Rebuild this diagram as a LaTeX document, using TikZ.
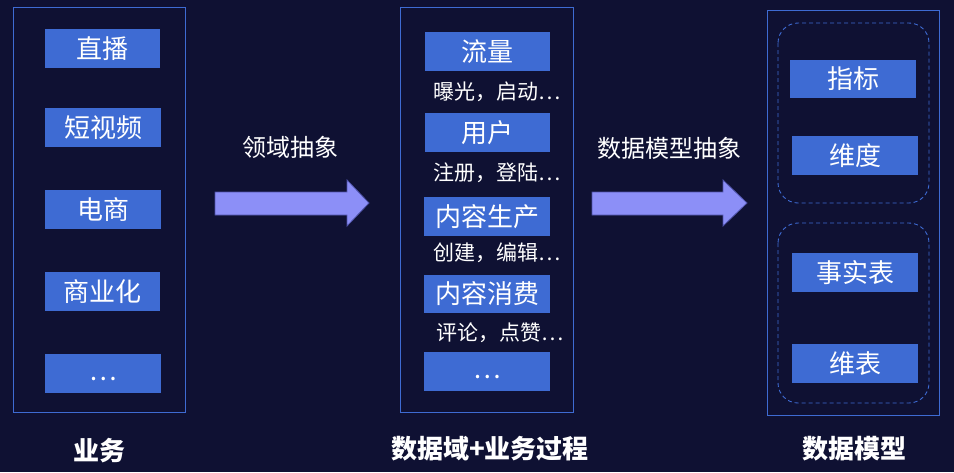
\documentclass[tikz,border=0pt]{standalone}
\usepackage{fontspec}
\setmainfont{Noto Sans CJK SC}
\usetikzlibrary{positioning}
\definecolor{bgc}{HTML}{0F1133}
\definecolor{boxc}{HTML}{3E6BD3}
\definecolor{arrc}{HTML}{8C8FF7}
\definecolor{arrd}{HTML}{4E52A8}
\tikzset{
  panel/.style={draw=boxc, line width=1pt},
  grp/.style={draw=boxc, line width=0.9pt, dash pattern=on 4pt off 3pt, rounded corners=20pt},
  item/.style={fill=boxc, text=white, inner sep=0pt, font=\fontsize{26pt}{30pt}\selectfont},
  sub/.style={text=white, inner sep=0pt, anchor=west, font=\fontsize{21pt}{25pt}\selectfont},
  alabel/.style={text=white, inner sep=0pt, font=\fontsize{24pt}{28pt}\selectfont},
  blabel/.style={text=white, inner sep=0pt, font=\bfseries\fontsize{26pt}{30pt}\selectfont},
  blockarrow/.style={fill=arrc, draw=arrd, line width=0.8pt}
}
\newcommand{\itembox}[6]{% name, x1, y1, x2, y2, text
  \path[item] (#2,#3) rectangle (#4,#5);
  \node[text=white, inner sep=0pt, font=\fontsize{26pt}{30pt}\selectfont] (#1) at ({(#2+#4)/2},{(#3+#5)/2}) {#6};
}
\begin{document}
\begin{tikzpicture}[x=1pt,y=-1pt]
\useasboundingbox (0,0) rectangle (954,472);
\fill[bgc] (0,0) rectangle (954,472);

% left panel
\draw[panel] (13,7) rectangle (185,412);
\itembox{b1}{45}{29}{160}{68}{直播}
\itembox{b2}{45}{108}{161}{147}{短视频}
\itembox{b3}{45}{190}{161}{229}{电商}
\itembox{b4}{45}{272}{160}{311}{商业化}
\path[item] (45,354) rectangle (161,393);
\node[text=white, inner sep=0pt, font=\fontsize{26pt}{30pt}\selectfont] (b5) at (103,379.5) {…};
\node[blabel] (lb1) at (99,450.5) {业务};

% arrow 1
\node[alabel] (a1) at (290,147) {领域抽象};
\draw[blockarrow] (215,192) -- (347,192) -- (347,180) -- (369,203) -- (347,226) -- (347,215) -- (215,215) -- cycle;

% middle panel
\draw[panel] (400,7) rectangle (573,412);
\itembox{m1}{425}{32}{550}{71}{流量}
\node[sub] (s1) at (433,92) {曝光，启动…};
\itembox{m2}{425}{113}{550}{152}{用户}
\node[sub] (s2) at (433,173) {注册，登陆…};
\itembox{m3}{424}{197}{550}{236}{内容生产}
\node[sub] (s3) at (433,253) {创建，编辑…};
\itembox{m4}{424}{275}{550}{313}{内容消费}
\node[sub] (s4) at (436,333) {评论，点赞…};
\path[item] (424,352) rectangle (550,391);
\node[text=white, inner sep=0pt, font=\fontsize{26pt}{30pt}\selectfont] (m5) at (487,377.5) {…};
\node[blabel] (lb2) at (490,448.5) {数据域+业务过程};

% arrow 2
\node[alabel] (a2) at (669,148) {数据模型抽象};
\draw[blockarrow] (592,192) -- (723,192) -- (723,180) -- (747,203) -- (723,226) -- (723,215) -- (592,215) -- cycle;

% right panel
\draw[panel] (767,10) rectangle (939,415);
\draw[grp] (778,23) rectangle (929,203);
\draw[grp] (778,223) rectangle (929,403);
\itembox{r1}{790}{60}{916}{98}{指标}
\itembox{r2}{792}{136}{918}{175}{维度}
\itembox{r3}{792}{253}{918}{292}{事实表}
\itembox{r4}{792}{344}{918}{383}{维表}
\node[blabel] (lb3) at (854,448.5) {数据模型};
\end{tikzpicture}
\end{document}
